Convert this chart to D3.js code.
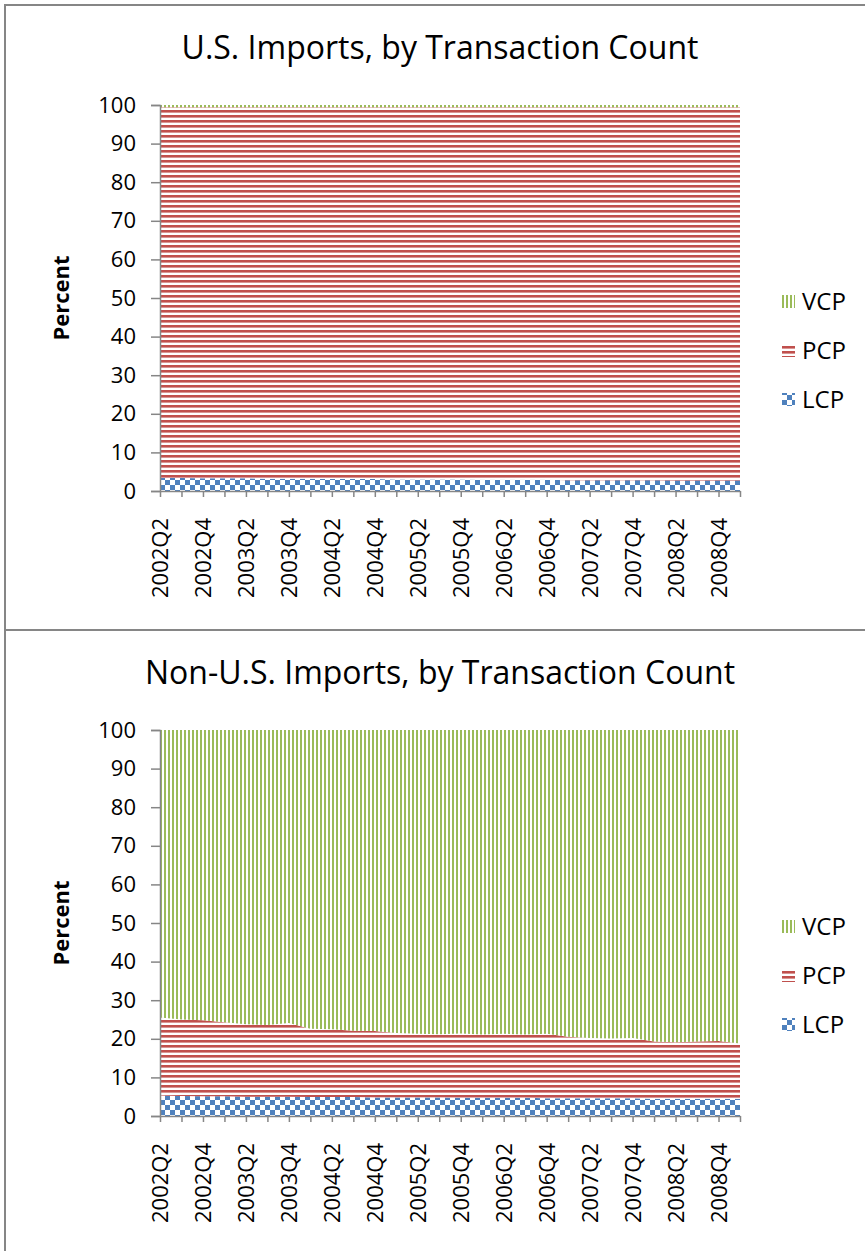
<!DOCTYPE html>
<html>
<head>
<meta charset="utf-8">
<script src="https://cdn.jsdelivr.net/npm/d3@7"></script>
<style>
  body { margin: 0; background: #fff; }
  svg { display: block; font-family: "Open Sans", "Noto Sans", sans-serif; }
</style>
</head>
<body>
<div id="chart"></div>
<script>
// quarters on the category axis
const quarters = [
  "2002Q2", "2002Q3", "2002Q4", "2003Q1", "2003Q2", "2003Q3", "2003Q4",
  "2004Q1", "2004Q2", "2004Q3", "2004Q4", "2005Q1", "2005Q2", "2005Q3",
  "2005Q4", "2006Q1", "2006Q2", "2006Q3", "2006Q4", "2007Q1", "2007Q2",
  "2007Q3", "2007Q4", "2008Q1", "2008Q2", "2008Q3", "2008Q4", "2009Q1"
];
const tickLabels = [
  "2002Q2", "2002Q4", "2003Q2", "2003Q4", "2004Q2", "2004Q4", "2005Q2",
  "2005Q4", "2006Q2", "2006Q4", "2007Q2", "2007Q4", "2008Q2", "2008Q4"
];
const yTicks = [0, 10, 20, 30, 40, 50, 60, 70, 80, 90, 100];
const keys = ["LCP", "PCP", "VCP"];

// U.S. imports, percent of transactions
const usLCP = [3.4, 3.4, 3.3, 3.3, 3.3, 3.2, 3.2, 3.2, 3.1, 3.1, 3.1, 3.0, 3.0, 3.0,
  3.0, 2.9, 2.9, 2.9, 2.9, 2.8, 2.8, 2.8, 2.8, 2.8, 2.7, 2.7, 2.7, 2.7];
const usPCP = [96.0, 96.0, 96.1, 96.1, 96.1, 96.2, 96.2, 96.2, 96.3, 96.3, 96.3, 96.4, 96.4, 96.4,
  96.4, 96.5, 96.5, 96.5, 96.5, 96.6, 96.6, 96.6, 96.6, 96.6, 96.7, 96.7, 96.7, 96.7];
const usVCP = [0.6, 0.6, 0.6, 0.6, 0.6, 0.6, 0.6, 0.6, 0.6, 0.6, 0.6, 0.6, 0.6, 0.6,
  0.6, 0.6, 0.6, 0.6, 0.6, 0.6, 0.6, 0.6, 0.6, 0.6, 0.6, 0.6, 0.6, 0.6];

// non-U.S. imports
const nonUsLCP = [5.3, 5.2, 5.1, 5.1, 5.0, 5.0, 5.0, 4.9, 4.9, 4.9, 4.8, 4.8, 4.8, 4.8,
  4.7, 4.7, 4.7, 4.7, 4.6, 4.6, 4.6, 4.6, 4.6, 4.5, 4.5, 4.5, 4.5, 4.5];
const nonUsPCP = [20.2, 19.8, 19.7, 19.2, 18.8, 18.6, 19.1, 17.7, 17.6, 17.2, 17.2, 16.7, 16.5, 16.4,
  16.7, 16.4, 16.6, 16.4, 16.7, 15.9, 15.6, 15.5, 15.6, 14.8, 14.6, 14.8, 14.9, 14.3];
const nonUsVCP = [74.5, 75.0, 75.2, 75.7, 76.2, 76.4, 75.9, 77.4, 77.5, 77.9, 78.0, 78.5, 78.7, 78.8,
  78.6, 78.9, 78.7, 78.9, 78.7, 79.5, 79.8, 79.9, 79.8, 80.7, 80.9, 80.7, 80.6, 81.2];

const W = 865, H = 1251;
const axisColor = "#868686";

const svg = d3.select("#chart").append("svg")
  .attr("width", W).attr("height", H);

const defs = svg.append("defs");

// fill patterns like the spreadsheet ones
const pVcp = defs.append("pattern").attr("id", "pat-VCP")
  .attr("patternUnits", "userSpaceOnUse").attr("width", 4).attr("height", 4);
pVcp.append("rect").attr("width", 4).attr("height", 4).attr("fill", "#fff");
pVcp.append("rect").attr("width", 2).attr("height", 4).attr("fill", "#9bbb59");

const pPcp = defs.append("pattern").attr("id", "pat-PCP")
  .attr("patternUnits", "userSpaceOnUse").attr("width", 5).attr("height", 5);
pPcp.append("rect").attr("width", 5).attr("height", 5).attr("fill", "#fff");
pPcp.append("rect").attr("width", 5).attr("height", 2.6).attr("fill", "#c0504d");

const pLcp = defs.append("pattern").attr("id", "pat-LCP")
  .attr("patternUnits", "userSpaceOnUse").attr("width", 10).attr("height", 10);
pLcp.append("rect").attr("width", 10).attr("height", 10).attr("fill", "#fff");
pLcp.append("rect").attr("width", 5).attr("height", 5).attr("fill", "#4f81bd");
pLcp.append("rect").attr("x", 5).attr("y", 5).attr("width", 5).attr("height", 5).attr("fill", "#4f81bd");

function drawPanel({ top, height, title, lcp, pcp, vcp }) {
  const g = svg.append("g").attr("transform", `translate(0,${top})`);

  g.append("rect")
    .attr("x", 5).attr("y", 0).attr("width", W + 10).attr("height", height)
    .attr("fill", "none").attr("stroke", axisColor).attr("stroke-width", 2);

  const plot = { left: 160, right: 740, top: 100, bottom: 486 };

  const x = d3.scalePoint().domain(quarters).range([plot.left, plot.right]);
  const y = d3.scaleLinear().domain([0, 100]).range([plot.bottom, plot.top]);

  const rows = quarters.map((q, i) => ({ q, LCP: lcp[i], PCP: pcp[i], VCP: vcp[i] }));
  const series = d3.stack().keys(keys)(rows);

  const area = d3.area()
    .x((d) => x(d.data.q))
    .y0((d) => y(d[0]))
    .y1((d) => y(d[1]));

  g.append("g").selectAll("path")
    .data(series)
    .join("path")
    .attr("d", area)
    .attr("fill", (d) => `url(#pat-${d.key})`);

  g.append("text")
    .attr("x", 440).attr("y", 54)
    .attr("text-anchor", "middle")
    .attr("font-size", 32)
    .attr("fill", "#000")
    .text(title);

  // y axis
  const yAxis = g.append("g")
    .attr("transform", `translate(${plot.left},0)`)
    .call(d3.axisLeft(y).tickValues(yTicks).tickSize(9).tickPadding(15));
  yAxis.select(".domain").attr("stroke", axisColor).attr("stroke-width", 1.5);
  yAxis.selectAll(".tick line").attr("stroke", axisColor).attr("stroke-width", 1.5);
  yAxis.selectAll(".tick text").attr("font-size", 22).attr("fill", "#000")
    .attr("font-family", "Open Sans");

  // x axis
  const xAxis = g.append("g")
    .attr("transform", `translate(0,${plot.bottom})`)
    .call(d3.axisBottom(x).tickSize(6).tickSizeOuter(0)
      .tickFormat((d) => (tickLabels.includes(d) ? d : "")));
  xAxis.select(".domain").attr("stroke", axisColor).attr("stroke-width", 1.5);
  xAxis.selectAll(".tick line").attr("stroke", axisColor).attr("stroke-width", 1.5);
  xAxis.selectAll(".tick text")
    .attr("font-size", 22).attr("fill", "#000").attr("font-family", "Open Sans")
    .attr("text-anchor", "end")
    .attr("dy", "0.35em")
    .attr("transform", "translate(0,27) rotate(-90)")
    .attr("x", 0).attr("y", 0);

  g.append("text")
    .attr("transform", `translate(69,${(plot.top + plot.bottom) / 2}) rotate(-90)`)
    .attr("text-anchor", "middle")
    .attr("font-size", 22).attr("font-weight", "bold")
    .text("Percent");

  // legend, VCP on top
  const legend = g.append("g").attr("transform", "translate(782,0)");
  const items = keys.slice().reverse();
  const legendRows = legend.selectAll("g")
    .data(items)
    .join("g")
    .attr("transform", (d, i) => `translate(0,${297 + i * 49})`);
  legendRows.append("rect")
    .attr("x", 0).attr("y", -7).attr("width", 13).attr("height", 13)
    .attr("fill", (d) => `url(#pat-${d})`);
  legendRows.append("text")
    .attr("x", 20).attr("y", 0).attr("dy", "0.35em")
    .attr("font-size", 24)
    .text((d) => d);
}

drawPanel({
  top: 5, height: 625, title: "U.S. Imports, by Transaction Count",
  lcp: usLCP, pcp: usPCP, vcp: usVCP
});
drawPanel({
  top: 630, height: 640, title: "Non-U.S. Imports, by Transaction Count",
  lcp: nonUsLCP, pcp: nonUsPCP, vcp: nonUsVCP
});
</script>
</body>
</html>
